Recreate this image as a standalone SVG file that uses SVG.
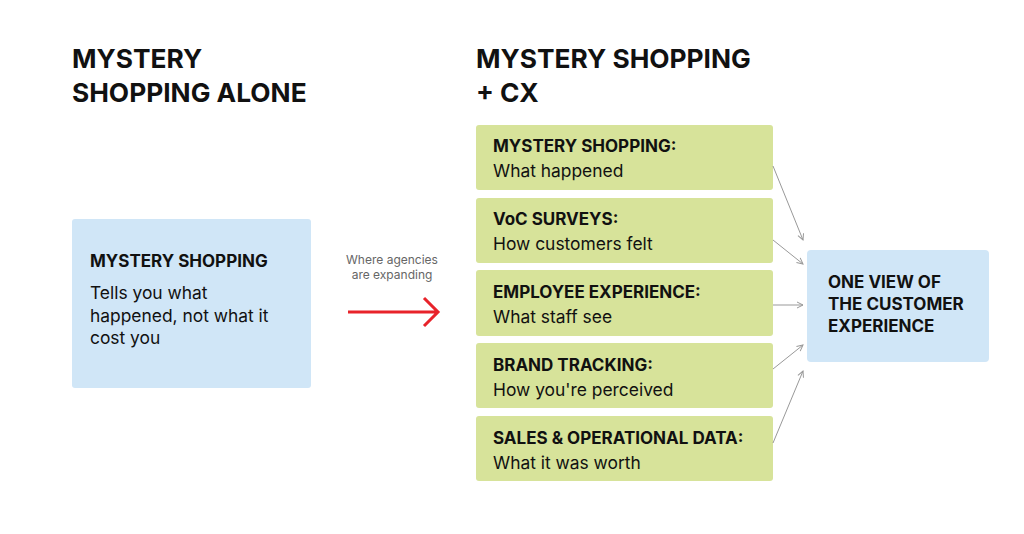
<svg xmlns="http://www.w3.org/2000/svg" width="1024" height="534" viewBox="0 0 1024 534">
<style>
text{font-family:Inter,"Liberation Sans",sans-serif;fill:#111}
.h{font-size:26.3px;font-weight:700}
.t{font-size:17px;font-weight:700}
.b{font-size:17.4px}
.g{fill:#d7e39a}
.bl{fill:#d0e6f7}
.c{stroke:#999;stroke-width:1;fill:none;marker-end:url(#a)}
</style>
<defs><marker id="a" markerWidth="8" markerHeight="8" refX="7" refY="4" orient="auto" markerUnits="userSpaceOnUse"><path d="M1,1 L7,4 L1,7" fill="none" stroke="#999" stroke-width="1"/></marker></defs>
<rect width="1024" height="534" fill="#fff"/>
<text class="h" x="72" y="68">MYSTERY</text>
<text class="h" x="72" y="102">SHOPPING ALONE</text>
<text class="h" x="476" y="68">MYSTERY SHOPPING</text>
<text class="h" x="476" y="102">+ CX</text>
<g id="left"><rect class="bl" x="72" y="219" width="239" height="169" rx="3"/>
<text class="t" x="90" y="267">MYSTERY SHOPPING</text>
<text class="b" x="90" y="299">Tells you what</text>
<text class="b" x="90" y="322">happened, not what it</text>
<text class="b" x="90" y="344">cost you</text></g>
<g id="arrow"><text x="392" y="264" font-size="12" text-anchor="middle" style="fill:#666">Where agencies</text>
<text x="392" y="279" font-size="12" text-anchor="middle" style="fill:#666">are expanding</text>
<path d="M348,312 H438 M424,298 L438,312 L424,326" stroke="#e8232a" stroke-width="3" fill="none"/></g>
<g id="n1"><rect class="g" x="476" y="125" width="297" height="65" rx="3"/><text class="t" x="493" y="152">MYSTERY SHOPPING:</text><text class="b" x="493" y="177">What happened</text></g>
<g id="n2"><rect class="g" x="476" y="198" width="297" height="65" rx="3"/><text class="t" x="493" y="225">VoC SURVEYS:</text><text class="b" x="493" y="250">How customers felt</text></g>
<g id="n3"><rect class="g" x="476" y="270" width="297" height="66" rx="3"/><text class="t" x="493" y="298">EMPLOYEE EXPERIENCE:</text><text class="b" x="493" y="323">What staff see</text></g>
<g id="n4"><rect class="g" x="476" y="343" width="297" height="65" rx="3"/><text class="t" x="493" y="371">BRAND TRACKING:</text><text class="b" x="493" y="396">How you're perceived</text></g>
<g id="n5"><rect class="g" x="476" y="416" width="297" height="65" rx="3"/><text class="t" x="493" y="444">SALES &amp; OPERATIONAL DATA:</text><text class="b" x="493" y="469">What it was worth</text></g>
<g id="out"><rect class="bl" x="807" y="250" width="182" height="112" rx="4"/>
<text class="t" x="828" y="288">ONE VIEW OF</text><text class="t" x="828" y="310">THE CUSTOMER</text><text class="t" x="828" y="332">EXPERIENCE</text></g>
<g id="connectors">
<path class="c" d="M773,166 L803,240"/>
<path class="c" d="M773,240 L803,264"/>
<path class="c" d="M773,305 L803,305"/>
<path class="c" d="M773,369 L803,345"/>
<path class="c" d="M773,443 L803,371"/>
</g>
</svg>
